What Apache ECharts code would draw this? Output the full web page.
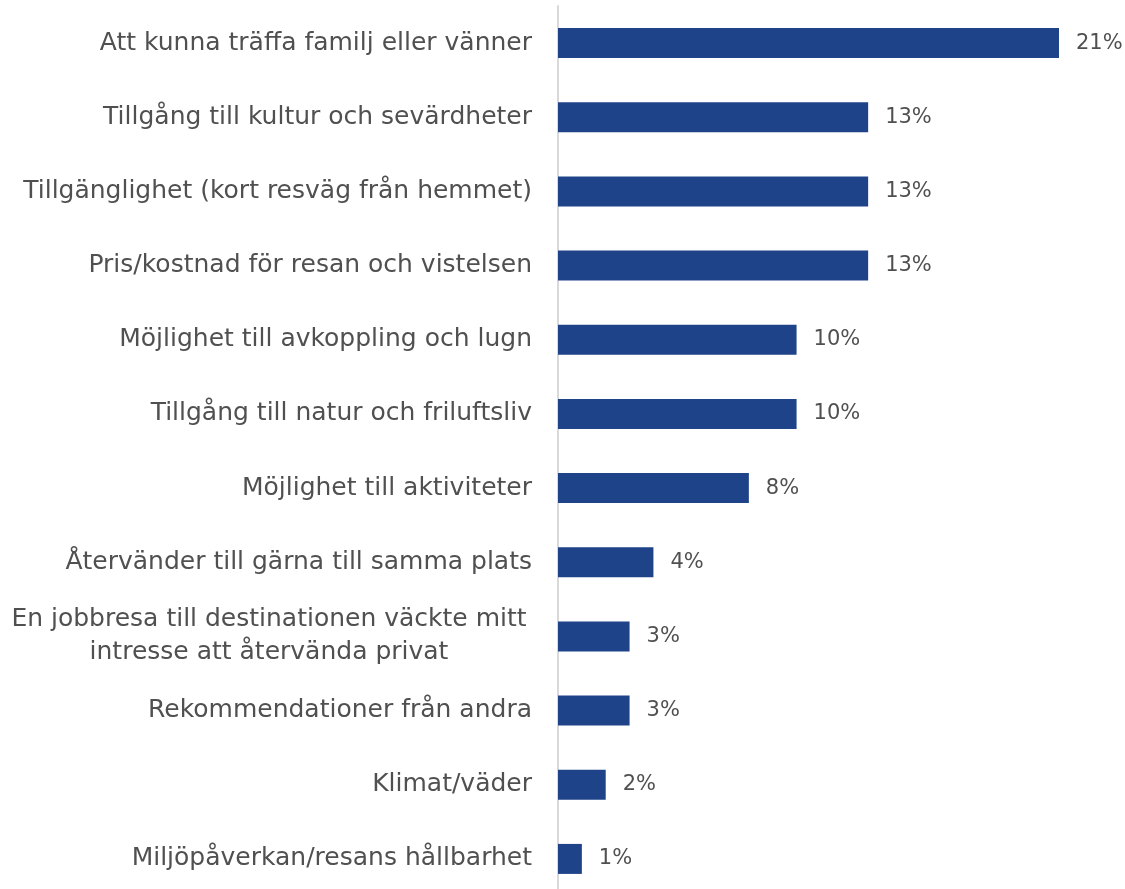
<!DOCTYPE html>
<html>
<head>
<meta charset="utf-8">
<script src="https://cdn.jsdelivr.net/npm/echarts@6/dist/echarts.min.js"></script>
<style>
  html, body { margin: 0; padding: 0; background: #fff; }
  #chart { width: 1125px; height: 889px; }
</style>
</head>
<body>
<div id="chart"></div>
<script>
// kategorier (uppifrån och ned) och andelar i procent
const categories = [
  'Att kunna träffa familj eller vänner',
  'Tillgång till kultur och sevärdheter',
  'Tillgänglighet (kort resväg från hemmet)',
  'Pris/kostnad för resan och vistelsen',
  'Möjlighet till avkoppling och lugn',
  'Tillgång till natur och friluftsliv',
  'Möjlighet till aktiviteter',
  'Återvänder till gärna till samma plats',
  'En jobbresa till destinationen väckte mitt\nintresse att återvända privat',
  'Rekommendationer från andra',
  'Klimat/väder',
  'Miljöpåverkan/resans hållbarhet'
];
const values = [21, 13, 13, 13, 10, 10, 8, 4, 3, 3, 2, 1];

const textColor = '#505050';
const font = 'DejaVu Sans';

const chart = echarts.init(document.getElementById('chart'));
chart.setOption({
  animation: false,
  grid: { left: 558, top: 6, width: 501, height: 890, outerBoundsMode: 'none' },
  xAxis: {
    type: 'value',
    min: 0,
    max: 21,
    show: false
  },
  yAxis: {
    type: 'category',
    inverse: true,
    data: categories,
    axisLine: { show: true, lineStyle: { color: '#d9d9d9', width: 2 } },
    axisTick: { show: false },
    axisLabel: {
      margin: 26,
      fontFamily: font,
      fontSize: 25,
      color: textColor,
      lineHeight: 33,
      formatter: (v) => v.indexOf('\n') >= 0 ? '{c|' + v + '}' : v,
      rich: {
        c: { width: 526, align: 'center', fontFamily: font, fontSize: 25, color: textColor, lineHeight: 33 }
      }
    }
  },
  series: [{
    type: 'bar',
    data: values,
    barWidth: 30,
    itemStyle: { color: '#1F4388' },
    label: {
      show: true,
      position: 'right',
      distance: 17,
      formatter: '{c}%',
      fontFamily: font,
      fontSize: 21,
      color: textColor
    }
  }]
});
</script>
</body>
</html>
